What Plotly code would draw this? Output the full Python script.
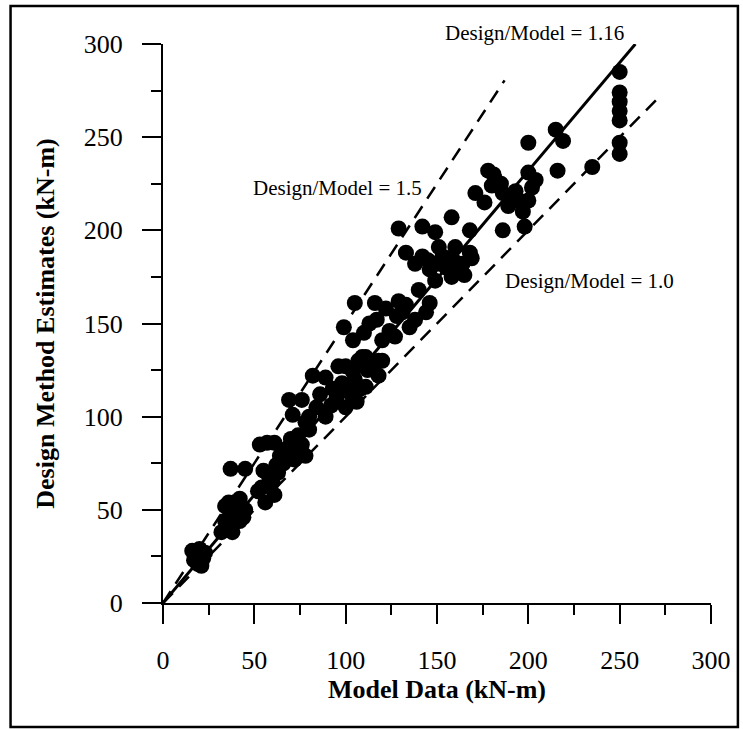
import plotly.graph_objects as go

# Measured points (Model Data, Design Method Estimates) in kN-m
model_data = [
    16, 18, 20, 22, 19, 21, 17, 23,
    32, 35, 38, 34, 37, 40, 34, 36, 42, 45, 42, 39, 44,
    37, 45,
    56, 61, 54, 58, 55, 60, 63, 52,
    53, 57, 61, 64, 68, 71, 75, 78, 66, 70, 74, 80, 76, 62, 72,
    69, 76, 71, 80, 82, 89, 84, 86, 89, 78, 92,
    95, 98, 100, 103, 105, 108, 111, 112, 115, 118, 100, 96, 93, 107, 109, 111, 118, 104, 101, 106,
    99, 104, 105, 116, 129, 146, 140, 120, 135, 128, 117, 110, 113, 124, 131, 138, 144, 122, 127, 133, 120,
    129, 142, 149, 158, 168, 133, 142, 151, 160, 168, 146, 155, 164, 149, 158, 169, 138, 153, 162, 145, 156, 160, 165, 150,
    186, 198, 171, 178, 182, 186, 189, 200, 202, 200, 195, 193, 204, 185, 190, 197, 180, 176,
    200, 215, 219, 216, 235, 181,
    250, 250, 250, 250, 250, 250, 250,
]
design_estimates = [
    28, 25, 29, 24, 21, 20, 23, 27,
    38, 40, 38, 44, 48, 48, 52, 54, 56, 50, 44, 52, 46,
    72, 72,
    54, 58, 62, 68, 71, 65, 70, 60,
    85, 86, 86, 79, 83, 82, 80, 79, 75, 88, 90, 93, 85, 74, 77,
    109, 109, 101, 100, 122, 121, 105, 112, 100, 97, 106,
    110, 118, 105, 112, 120, 115, 116, 125, 128, 122, 127, 127, 115, 130, 132, 132, 130, 124, 114, 108,
    148, 141, 161, 161, 162, 161, 168, 141, 148, 154, 152, 145, 150, 146, 156, 152, 156, 158, 143, 160, 130,
    201, 202, 199, 207, 200, 188, 186, 191, 191, 188, 179, 180, 182, 173, 175, 185, 182, 186, 178, 184, 185, 183, 176, 182,
    200, 202, 220, 232, 227, 220, 213, 231, 223, 216, 216, 221, 227, 225, 218, 210, 224, 215,
    247, 254, 248, 232, 234, 230,
    285, 274, 269, 264, 259, 247, 241,
]

# Reference ratio lines: (ratio, end of model data range, label)
ratio_values = [1.16, 1.5, 1.0]
ratio_x_end = [258.6, 187, 270]
ratio_labels = ["Design/Model = 1.16", "Design/Model = 1.5", "Design/Model = 1.0"]

x_ticks = [0, 50, 100, 150, 200, 250, 300]
y_ticks = [0, 50, 100, 150, 200, 250, 300]

FONT = "Liberation Serif, Times New Roman, serif"

fig = go.Figure()

line_styles = ["solid", "14px,9px", "14px,9px"]
line_widths = [3, 2.5, 2.5]
for r, xe, ds, lw in zip(ratio_values, ratio_x_end, line_styles, line_widths):
    fig.add_trace(go.Scatter(
        x=[0, xe], y=[0, r * xe], mode="lines",
        line=dict(color="black", width=lw, dash=ds),
        showlegend=False, hoverinfo="skip", cliponaxis=False,
    ))

fig.add_trace(go.Scatter(
    x=model_data, y=design_estimates, mode="markers",
    marker=dict(color="black", size=16, line=dict(width=0)),
    showlegend=False, cliponaxis=False,
))

# label positions in paper fractions of the plot area
label_px = [0.678, 0.318, 0.778]
label_py = [1.020, 0.742, 0.576]
for lab, lx, ly in zip(ratio_labels, label_px, label_py):
    fig.add_annotation(
        x=lx, y=ly, xref="paper", yref="paper", text=lab, showarrow=False,
        font=dict(family=FONT, size=21, color="black"),
        xanchor="center", yanchor="middle",
    )

axis_common = dict(
    range=[0, 300], showgrid=False, zeroline=False,
    showline=True, linecolor="black", linewidth=2,
    ticks="outside", ticklen=19, tickwidth=2, tickcolor="black",
    tickfont=dict(family=FONT, size=26, color="black"),
    minor=dict(ticks="outside", ticklen=10, tickwidth=2, tickcolor="black", dtick=25, tick0=0),
)

fig.update_layout(
    width=743, height=730,
    margin=dict(l=163, r=30, t=44, b=127),
    paper_bgcolor="white", plot_bgcolor="white",
    xaxis=dict(
        **axis_common, tickvals=x_ticks, ticktext=[str(v) for v in x_ticks],
        ticklabelstandoff=14,
        title=dict(text="<b>Model Data (kN-m)</b>", font=dict(family=FONT, size=26, color="black"), standoff=2),
    ),
    yaxis=dict(
        **axis_common, tickvals=y_ticks, ticktext=[str(v) for v in y_ticks],
        ticklabelstandoff=14,
        title=dict(text="<b>Design Method Estimates (kN-m)</b>", font=dict(family=FONT, size=26, color="black"), standoff=22),
    ),
    shapes=[dict(
        type="rect", xref="paper", yref="paper",
        x0=(10 - 163) / 550, x1=(740 - 163) / 550,
        y0=(603 - 727) / 559, y1=(603 - 6) / 559,
        line=dict(color="black", width=2.5), fillcolor="rgba(0,0,0,0)", layer="below",
    )],
)

fig.write_html(
    "out.html",
    config={"displayModeBar": False},
    post_script="document.body.style.margin='0';document.body.style.overflow='hidden';",
)
